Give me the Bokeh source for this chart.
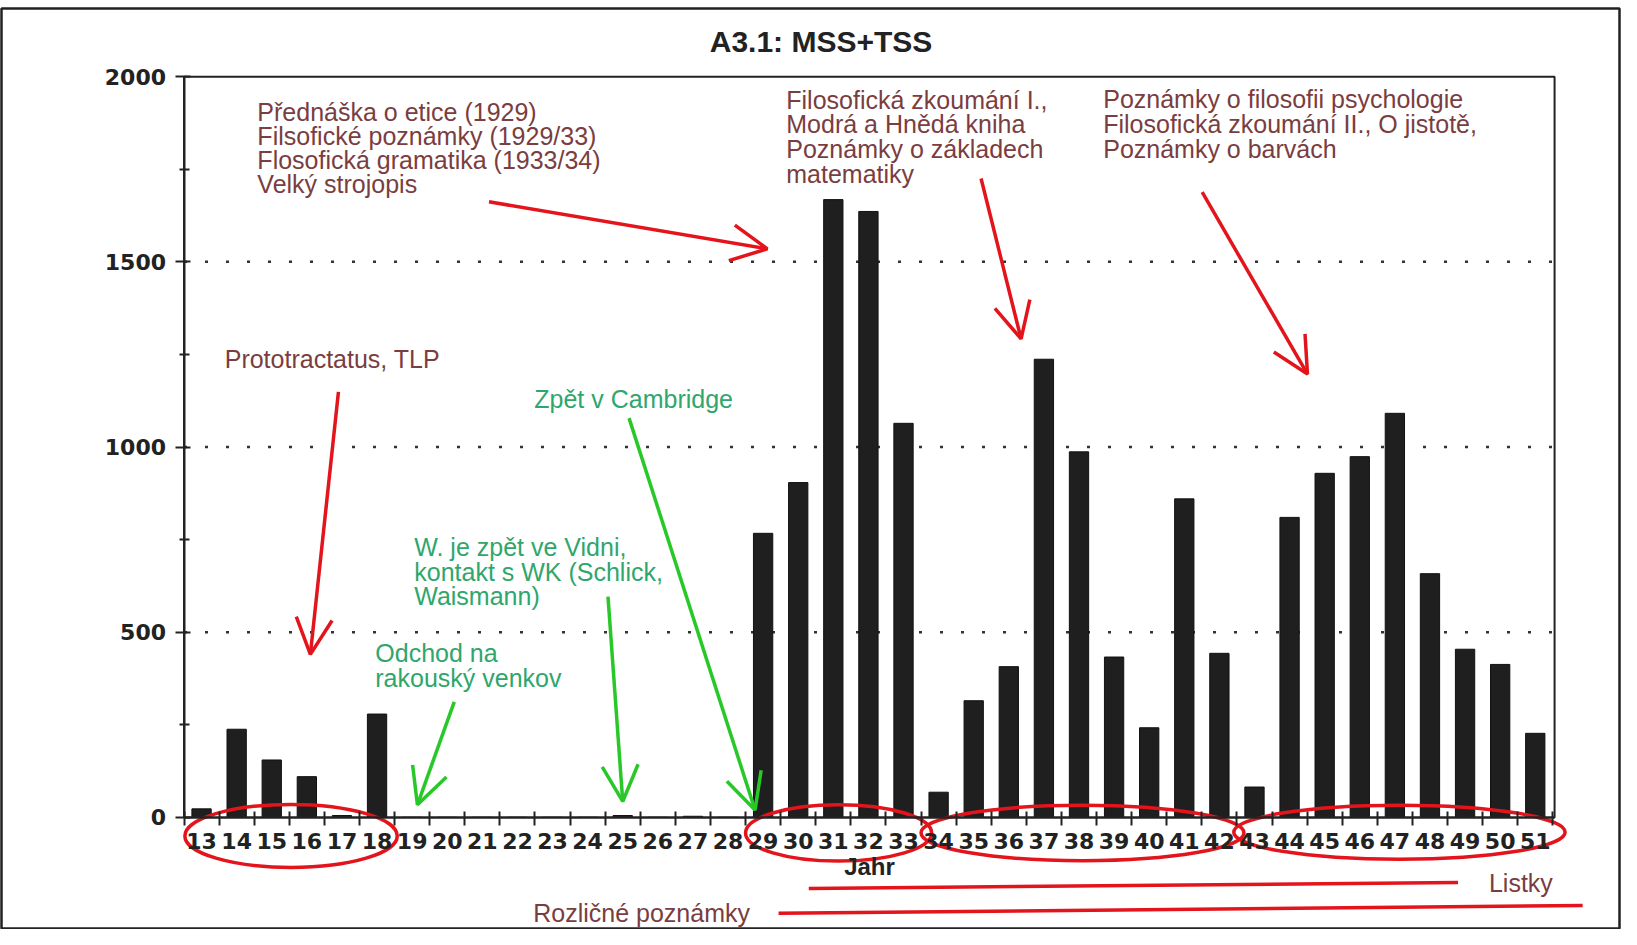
from bokeh.plotting import figure
from bokeh.models import Range1d, FixedTicker, Label, Arrow, OpenHead, BoxAnnotation
from bokeh.embed import file_html
from bokeh.resources import INLINE

# ---------------- data ----------------
years = list(range(13, 52))
counts = [23, 238, 155, 110, 5, 279,          # 13-18
          0, 0, 0, 0, 0, 0,                  # 19-24
          5, 0, 3, 0,                        # 25-28
          767, 904, 1668, 1636, 1064,        # 29-33
          68, 315, 407, 1237, 987, 433, 242, 860, 443,   # 34-42
          82, 810, 929, 974, 1091, 658, 454, 413, 227]   # 43-51
y_ticks = [0, 500, 1000, 1500, 2000]
y_minor = [250, 750, 1250, 1750]
x_boundaries = [y + 0.5 for y in range(12, 52)]

title_text = "A3.1: MSS+TSS"
x_label = "Jahr"
note_works_1 = ["Přednáška o etice (1929)", "Filsofické poznámky (1929/33)",
                "Flosofická gramatika (1933/34)", "Velký strojopis"]
note_works_2 = ["Filosofická zkoumání I.,", "Modrá a Hnědá kniha",
                "Poznámky o základech", "matematiky"]
note_works_3 = ["Poznámky o filosofii psychologie", "Filosofická zkoumání II., O jistotě,",
                "Poznámky o barvách"]
note_proto = ["Prototractatus, TLP"]
note_cambridge = ["Zpět v Cambridge"]
note_vienna = ["W. je zpět ve Vidni,", "kontakt s WK (Schlick,", "Waismann)"]
note_country = ["Odchod na", "rakouský venkov"]
timeline_listky = "Listky"
timeline_rozlicne = "Rozličné poznámky"

# year groups circled in red: (first, last)
year_groups = [(13, 18), (29, 33), (34, 42), (43, 51)]

# ---------------- layout / styles ----------------
AX_X = (12.5, 51.55)      # extent of the x axis (years)
AX_Y = (0, 2000)          # extent of the y axis
BAR = "#1f1f1f"
BROWN = "#7a3d40"
GREEN_TXT = "#2fa66c"
GREEN = "#28c828"
RED = "#e3141c"
INK = "#222222"
FONT = "Liberation Sans"
TICKFONT = "DejaVu Sans"

p = figure(width=1621, height=929,
           x_range=Range1d(7.30, 53.40), y_range=Range1d(-300, 2184),
           output_backend="svg", toolbar_location=None,
           min_border_left=1, min_border_right=2,
           min_border_top=8, min_border_bottom=1)
p.background_fill_color = "white"
p.border_fill_color = "white"
# the outline of the frame is the outer frame of the figure page
p.outline_line_color = INK
p.outline_line_width = 2.5
p.xgrid.visible = False
p.ygrid.visible = False

# dotted reference lines at inner y ticks (behind bars)
grid_vals = y_ticks[1:-1]
p.segment(x0=[AX_X[0]] * len(grid_vals), x1=[AX_X[1]] * len(grid_vals),
          y0=grid_vals, y1=grid_vals, line_color="#333333", line_width=2.5,
          line_dash="3 18")

p.vbar(x=years, top=counts, width=0.55, fill_color=BAR, line_color="#111111", line_width=1)

# plot box (top / right edges)
p.add_layout(BoxAnnotation(left=AX_X[0], right=AX_X[1], bottom=AX_Y[0], top=AX_Y[1],
                           fill_alpha=0, line_color=INK, line_alpha=1, line_width=2))

# axes, placed at fixed data locations inside the frame
xa = p.xaxis[0]
xa.fixed_location = 0
xa.bounds = AX_X
xa.ticker = FixedTicker(ticks=years, minor_ticks=x_boundaries)
xa.major_tick_in = 0
xa.major_tick_out = 0
xa.minor_tick_in = 6
xa.minor_tick_out = 8
xa.minor_tick_line_color = INK
xa.minor_tick_line_width = 2
xa.axis_line_color = INK
xa.axis_line_width = 2
xa.major_label_standoff = 8
xa.major_label_text_font = TICKFONT
xa.major_label_text_font_style = "bold"
xa.major_label_text_font_size = "22px"
xa.major_label_text_color = INK
xa.axis_label = x_label
xa.axis_label_text_font = FONT
xa.axis_label_text_font_style = "bold"
xa.axis_label_text_font_size = "24px"
xa.axis_label_text_color = INK
xa.axis_label_standoff = 0

ya = p.yaxis[0]
ya.fixed_location = AX_X[0]
ya.bounds = AX_Y
ya.ticker = FixedTicker(ticks=y_ticks, minor_ticks=y_minor)
ya.major_tick_in = 6
ya.major_tick_out = 9
ya.minor_tick_in = 5
ya.minor_tick_out = 5
ya.major_tick_line_color = INK
ya.minor_tick_line_color = INK
ya.major_tick_line_width = 2
ya.minor_tick_line_width = 2
ya.axis_line_color = INK
ya.axis_line_width = 2
ya.major_label_standoff = 9
ya.major_label_text_font = TICKFONT
ya.major_label_text_font_style = "bold"
ya.major_label_text_font_size = "22px"
ya.major_label_text_color = INK


def text_lines(lines, x, y0, step, color, size="25px", style="normal", align="left"):
    for i, t in enumerate(lines):
        p.add_layout(Label(x=x, y=y0 - i * step, text=t, text_font=FONT,
                           text_font_size=size, text_font_style=style,
                           text_color=color, text_align=align,
                           text_baseline="middle"))


def arrow(x0, y0, x1, y1, color):
    p.add_layout(Arrow(end=OpenHead(line_color=color, line_width=3.5, size=36),
                       x_start=x0, y_start=y0, x_end=x1, y_end=y1,
                       line_color=color, line_width=3.5))


# title
text_lines([title_text], 30.65, 2094, 0, INK, size="30px", style="bold", align="center")

# brown notes + red arrows
text_lines(note_works_1, 14.59, 1904, 65, BROWN)
arrow(21.19, 1662, 29.12, 1535, RED)
text_lines(note_works_2, 29.66, 1938, 67, BROWN)
arrow(35.21, 1725, 36.35, 1292, RED)
text_lines(note_works_3, 38.69, 1940, 67, BROWN)
arrow(41.51, 1688, 44.51, 1197, RED)
text_lines(note_proto, 13.66, 1237, 0, BROWN)
arrow(16.90, 1149, 16.10, 440, RED)

# green notes + arrows
text_lines(note_cambridge, 22.48, 1129, 0, GREEN_TXT)
arrow(25.18, 1078, 28.77, 20, GREEN)
text_lines(note_vienna, 19.06, 729, 66, GREEN_TXT)
arrow(24.58, 596, 25.0, 43, GREEN)
text_lines(note_country, 17.95, 443, 66, GREEN_TXT)
arrow(20.2, 312, 19.15, 34, GREEN)

# red ellipses around year groups (centred on the group, padded around labels)
e_pad = [1.05, 1.3, 1.2, 1.44]
e_shift = [0.05, 0.15, 0.1, 0.13]
e_y = [-50, -42, -42, -40]
e_h = [170, 152, 150, 146]
p.ellipse(x=[(a + b) / 2 + s for (a, b), s in zip(year_groups, e_shift)],
          y=e_y,
          width=[(b - a) + d for (a, b), d in zip(year_groups, e_pad)],
          height=e_h, fill_color=None, line_color=RED, line_width=3.5)

# time-span lines with their labels
p.segment(x0=[30.3, 29.44], y0=[-192, -259], x1=[48.8, 52.35], y1=[-176, -238],
          line_color=RED, line_width=3.5)
text_lines([timeline_listky], 49.68, -178, 0, BROWN)
text_lines([timeline_rozlicne], 22.45, -259, 0, BROWN)

open("out.html", "w").write(file_html(p, INLINE))
